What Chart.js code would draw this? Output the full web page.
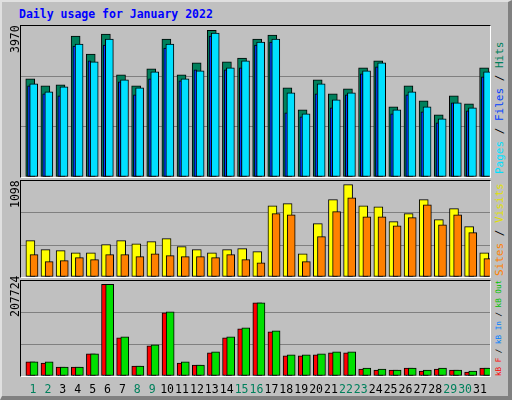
<!DOCTYPE html>
<html><head><meta charset="utf-8">
<script src="https://cdn.jsdelivr.net/npm/chart.js@4/dist/chart.umd.min.js"></script>
<style>
body{margin:0;background:#fff;}
#frame{position:absolute;left:0;top:0;width:512px;height:400px;background:#c0c0c0;box-sizing:border-box;border-top:2px solid #e0e0e0;border-left:2px solid #e0e0e0;border-right:4px solid #808080;border-bottom:4px solid #808080;}
.t{position:absolute;font-family:"DejaVu Sans Mono",monospace;font-size:11.5px;white-space:nowrap;}
.panel{position:absolute;left:20px;width:471px;box-sizing:border-box;border-top:1px solid #000;border-left:1px solid #000;border-right:1px solid #fff;border-bottom:1px solid #fff;}
.panel canvas{position:absolute;left:0;top:0;}
.rot{position:absolute;transform-origin:0 0;transform:rotate(-90deg);font-family:"DejaVu Sans Mono",monospace;font-size:11.5px;white-space:nowrap;}
</style></head><body>
<div id="frame"></div>
<div class="t" style="left:19px;top:7px;color:#0000ff;font-weight:bold;">Daily usage for January 2022</div>
<div class="panel" id="p1" style="top:25px;height:153px;"><canvas id="c1"></canvas></div>
<div class="panel" id="p2" style="top:180px;height:98px;"><canvas id="c2"></canvas></div>
<div class="panel" id="p3" style="top:280px;height:97px;"><canvas id="c3"></canvas></div>
<div class="rot" style="left:8px;top:53px;">3970</div>
<div class="rot" style="left:8px;top:208px;">1098</div>
<div class="rot" style="left:8px;top:317px;">207724</div>
<div class="rot" style="left:493px;top:174px;font-size:11px;"><span style="color:#00e0ff">Pages</span> / <span style="color:#0040ff">Files</span> / <span style="color:#00805c">Hits</span></div>
<div class="rot" style="left:493px;top:276px;font-size:11px;"><span style="color:#ff8000">Sites</span> / <span style="color:#e0e000">Visits</span></div>
<div class="rot" style="left:494px;top:376px;font-size:7.6px;"><span style="color:#ff0000">kB F</span> / <span style="color:#0080ff">kB In</span> / <span style="color:#00c000">kB Out</span></div>
<div id="days"></div>
<script>
const days = [1,2,3,4,5,6,7,8,9,10,11,12,13,14,15,16,17,18,19,20,21,22,23,24,25,26,27,28,29,30,31];
const weekend = [1,2,8,9,15,16,22,23,29,30];
const hits = [2655,2466,2493,3816,3330,3870,2763,2466,2925,3735,2763,3087,3970,3114,3222,3735,3843,2412,1818,2628,2250,2385,2952,3141,1899,2466,2061,1683,2196,1980,2952];
const files = [2520,2304,2439,3600,3114,3735,2628,2412,2844,3600,2655,2871,3897,2952,3141,3654,3735,2277,1710,2520,2088,2277,2871,3087,1818,2304,1899,1575,2007,1872,2844];
const pages = [2466,2250,2196,3546,3141,3573,2574,2223,2655,3492,2601,2898,3816,2898,2952,3573,3654,1737,1629,2250,1872,2223,2790,2979,1710,2223,1764,1467,2007,1791,2709];
const visits = [432,325,313,289,289,385,432,396,420,456,361,325,289,325,337,301,848,872,277,634,920,1098,848,836,658,753,920,682,813,599,289];
const sites = [266,182,194,230,206,266,266,242,277,254,242,242,230,266,206,170,753,741,182,480,777,943,717,717,610,706,860,622,741,527,218];
const kbF = [31836,29562,20466,20466,50028,207724,86412,22740,68220,143262,29562,25014,52302,86412,106878,166002,100056,45480,45480,47754,52302,52302,15918,13644,13644,18192,11370,15918,13644,9096,18192];
const kbOut = [31836,31836,20466,20466,50028,207724,88686,22740,70494,145536,31836,25014,54576,88686,109152,166002,102330,47754,47754,50028,54576,54576,18192,15918,13644,18192,13644,18192,13644,11370,18192];
const kbIn = [300,300,300,1500,300,300,300,300,300,300,300,300,1500,300,300,300,300,300,300,300,300,300,300,300,300,300,300,300,300,300,1500];

function pts(arr){return arr.map((v,i)=>({x:days[i],y:v}));}
function xAxis(shift){return {type:'linear',display:false,offset:false,min:0.5-shift,max:31.5-shift};}
function ds(arr,color,axis,w,order){return {data:pts(arr),backgroundColor:color,borderColor:'#000',borderWidth:1,borderSkipped:false,xAxisID:axis,barThickness:w,grouped:false,order:order};}
function make(id,panel,datasets,xs,ymax){
  const p=document.getElementById(panel);
  const w=p.clientWidth,h=p.clientHeight;
  const c=document.getElementById(id);c.width=w;c.height=h;c.style.width=w+'px';c.style.height=h+'px';
  const scales=Object.assign({},xs);
  scales.y={min:0,max:ymax,display:true,
    afterFit:s=>{s.width=0;},
    afterBuildTicks:s=>{s.ticks=[0,ymax/3,2*ymax/3,ymax].map(v=>({value:v}));},
    ticks:{display:false},border:{display:false},
    grid:{drawTicks:false,color:ctx=>(ctx.index===1||ctx.index===2)?'#808080':'rgba(0,0,0,0)',lineWidth:1}};
  new Chart(c,{type:'bar',data:{datasets},options:{responsive:false,animation:false,
    devicePixelRatio:1,layout:{padding:0},plugins:{legend:{display:false},tooltip:{enabled:false}},scales}});
}
make('c1','p1',[
  ds(hits,'#00805c','xh',9,3),
  ds(pages,'#0040ff','xp',3,2),
  ds(files,'#00e0ff','xf',8,1)
],{xh:xAxis(0.11),xp:xAxis(0.03),xf:xAxis(0.34)},4087);
make('c2','p2',[
  ds(visits,'#ffff00','xv',9,2),
  ds(sites,'#ff8000','xs',8,1)
],{xv:xAxis(0.12),xs:xAxis(0.36)},1142);
make('c3','p3',[
  ds(kbF,'#ff0000','xa',9,3),
  ds(kbIn,'#0080ff','xc',2,2),
  ds(kbOut,'#00e000','xb',8,1)
],{xa:xAxis(0.12),xb:xAxis(0.36),xc:xAxis(0.03)},215305);
const dd=document.getElementById('days');
days.forEach((d,i)=>{const e=document.createElement('div');e.className='t';e.textContent=d;
  e.style.color=weekend.includes(d)?'#00805c':'#000';
  e.style.top='382px';e.style.left=(33+14.9*i)+'px';e.style.transform='translateX(-50%)';dd.appendChild(e);});
</script>
</body></html>
